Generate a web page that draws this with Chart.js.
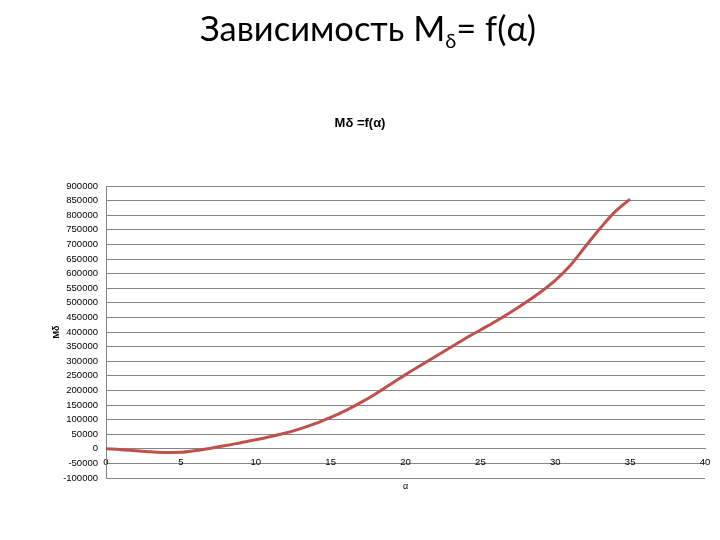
<!DOCTYPE html>
<html>
<head>
<meta charset="utf-8">
<script src="https://cdn.jsdelivr.net/npm/chart.js@4"></script>
<style>
  html, body { margin: 0; padding: 0; background: #fff; }
  #wrap { position: relative; width: 720px; height: 540px; }
  #mainTitle {
    position: absolute; left: 0; top: 6px; width: 720px; text-align: center;
    font-family: "Lato", "Liberation Sans", sans-serif; font-size: 34.5px; line-height: 44px;
    color: #000; padding-left: 16px; box-sizing: border-box;
  }
  #mainTitle sub { font-size: 20px; vertical-align: -7px; line-height: 0; }
  canvas { position: absolute; left: 0; top: 0; }
</style>
</head>
<body>
<div id="wrap">
  <canvas id="c" width="720" height="540"></canvas>
  <div id="mainTitle">Зависимость M<sub>δ</sub>= f(α)</div>
</div>
<script>
const alpha = [0,1,2,3,4,5,6,7,8,9,10,11,12,13,14,15,16,17,18,19,20,21,22,23,24,25,26,27,28,29,30,31,32,33,34,35];
const moment = [0,-3000,-7000,-10500,-12500,-12000,-6000,2000,11000,21000,31000,42000,54000,69000,87000,108000,131000,158000,188000,221000,254000,285000,316000,347000,378000,407000,436000,467000,500000,536000,577000,628000,692000,755000,812000,855000];
const chartTitle = 'Mδ =f(α)';
const yTitle = 'Mδ';
const xTitle = 'α';

const tickFont = { family: '"Liberation Sans", sans-serif', size: 9.5 };
const gridColor = '#868686';

new Chart(document.getElementById('c'), {
  type: 'line',
  data: {
    datasets: [{
      data: alpha.map((a, i) => ({ x: a, y: moment[i] })),
      borderColor: '#c0504d',
      borderWidth: 3,
      pointRadius: 0,
      tension: 0.4,
      cubicInterpolationMode: 'monotone',
      fill: false
    }]
  },
  options: {
    responsive: false,
    animation: false,
    devicePixelRatio: 1,
    layout: { padding: { left: 15, right: 15, top: 0, bottom: 0 } },
    plugins: {
      legend: { display: false },
      tooltip: { enabled: false },
      title: {
        display: true,
        text: chartTitle,
        color: '#000',
        font: { family: '"Liberation Sans", sans-serif', size: 13, weight: 'bold' },
        padding: { top: 116, bottom: 54.4 }
      }
    },
    scales: {
      x: {
        type: 'linear',
        position: { y: 0 },
        min: 0, max: 40,
        grid: { display: false, drawTicks: false },
        border: { display: true, color: gridColor },
        ticks: { stepSize: 5, color: '#000', font: tickFont, padding: 8, autoSkip: false, maxRotation: 0 }
      },
      x2: {
        type: 'linear',
        position: 'bottom',
        grid: { display: false, drawTicks: false },
        border: { display: false },
        ticks: { display: false },
        title: { display: true, text: xTitle, color: '#000', font: { family: '"Liberation Sans", sans-serif', size: 9 }, padding: { top: 0, bottom: 47.6 } },
        afterFit: s => { s.height = 62; }
      },
      y: {
        type: 'linear',
        min: -100000, max: 900000,
        grid: { display: true, color: gridColor, drawTicks: false, lineWidth: 1 },
        border: { display: true, color: gridColor },
        ticks: { stepSize: 50000, color: '#000', font: tickFont, padding: 8, autoSkip: false, callback: v => String(v) },
        title: { display: true, text: yTitle, color: '#000', font: { family: '"Liberation Sans", sans-serif', size: 9, weight: 'bold' }, padding: { top: 36.6, bottom: 0 } },
        afterFit: s => { s.width = 91; }
      }
    }
  }
});
</script>
</body>
</html>
